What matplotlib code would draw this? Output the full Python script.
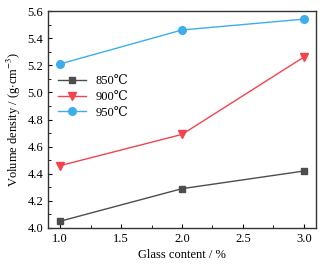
import matplotlib
matplotlib.use("Agg")
import matplotlib.pyplot as plt
from matplotlib.ticker import MultipleLocator

plt.rcParams['font.family'] = ['Liberation Serif', 'DejaVu Serif']
plt.rcParams['mathtext.fontset'] = 'stix'

glass = [1.0, 2.0, 3.0]
d850 = [4.05, 4.29, 4.42]
d900 = [4.46, 4.69, 5.26]
d950 = [5.21, 5.46, 5.54]
labels = ['850℃', '900℃', '950℃']

fig = plt.figure(figsize=(3.25, 2.65), dpi=100)
ax = fig.add_axes([48/325, 1 - 228/265, 268/325, 217/265])

ax.plot(glass, d850, color='#4d4d4d', marker='s', ms=5, lw=1, label=labels[0])
ax.plot(glass, d900, color='#f2434e', marker='v', ms=6, lw=1, label=labels[1])
ax.plot(glass, d950, color='#3daee9', marker='o', ms=5.5, lw=1, label=labels[2])

ax.set_xlim(0.9, 3.1)
ax.set_ylim(4.0, 5.6)
ax.xaxis.set_major_locator(MultipleLocator(0.5))
ax.xaxis.set_minor_locator(MultipleLocator(0.25))
ax.yaxis.set_major_locator(MultipleLocator(0.2))
ax.yaxis.set_minor_locator(MultipleLocator(0.1))
ax.tick_params(which='both', direction='in', labelsize=9)
ax.tick_params(which='major', length=3)
ax.tick_params(which='minor', length=2)
for s in ax.spines.values():
    s.set_color('#333333')
    s.set_linewidth(1)

ax.set_xlabel('Glass content / %', fontsize=9, labelpad=3)
ax.set_ylabel(r'Volume density / (g$\cdot$cm$^{-3}$)', fontsize=9, labelpad=3)
ax.legend(loc='upper left', bbox_to_anchor=(0.0, 0.75), frameon=False, fontsize=9,
          handlelength=2.2, labelspacing=0.3, borderaxespad=0.4)

fig.savefig('out.png', dpi=100)
